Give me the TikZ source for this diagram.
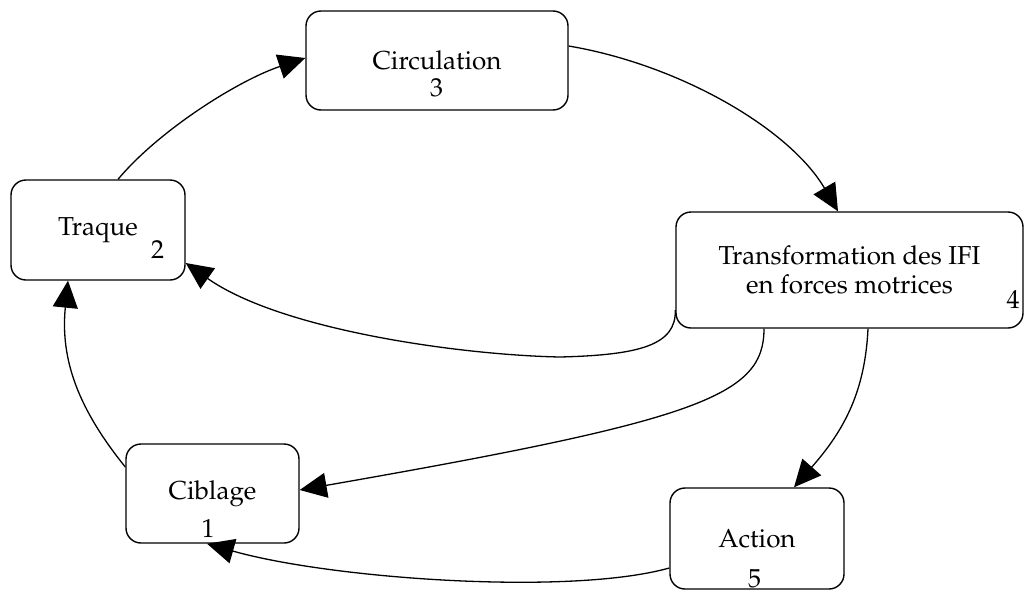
\documentclass[tikz,border=0pt]{standalone}
\usepackage[T1]{fontenc}
\usepackage{mathpazo}
\usetikzlibrary{arrows.meta,calc}

\tikzset{
  stage/.style={draw, line width=1.4pt, rounded corners=15pt, inner sep=0pt,
    align=center, font=\fontsize{26}{29}\selectfont},
  num/.style={anchor=base, inner sep=0pt, font=\fontsize{26}{29}\selectfont},
  flow/.style={line width=1.3pt, -{Triangle[length=27pt,width=25pt]}}
}

\begin{document}
\begin{tikzpicture}[x=1pt, y=-1pt]
\useasboundingbox (0,0) rectangle (1025,608);

% stages of the cycle
\node[stage, minimum width=262pt, minimum height=99pt]  (ci) at (437,60.5)   {Circulation};
\node[stage, minimum width=174pt, minimum height=100pt] (tr) at (98,230)     {Traque};
\node[stage, minimum width=347pt, minimum height=116pt] (tf) at (849.5,270)  {Transformation des IFI\\en forces motrices};
\node[stage, minimum width=173pt, minimum height=99pt]  (cb) at (212.5,493.5) {Ciblage};
\node[stage, minimum width=174pt, minimum height=101pt] (ac) at (757,538.5)  {Action};

% step numbers
\node[num] (n3) at (436.5,96) {3};
\node[num] (n2) at (157.5,258) {2};
\node[num] (n4) at (1013,308) {4};
\node[num] (n1) at (208,537) {1};
\node[num] (n5) at (754.5,587) {5};

% connectors
\draw[flow] ($(tr.north)+(20,0)$) .. controls +(42,-50) and +(-66,22) .. ($(ci.west)+(0,-2.5)$);
\draw[flow] ($(ci.east)+(0,-14.5)$) .. controls +(112,19) and +(-48,-82) .. ($(tf.north)+(-11.5,0)$);
\draw[flow] ($(tf.west)+(0,40)$) .. controls +(1,35) and +(80,-2) .. (560,357)
            .. controls +(-100,-2) and +(95,67) .. ($(tr.east)+(0,33)$);
\draw[flow] ($(tf.south)+(-85.5,0)$) .. controls +(0,67) and +(401,-70) .. ($(cb.east)+(0,-3.5)$);
\draw[flow] ($(tf.south)+(18.5,0)$) .. controls +(-3,62) and +(51,-58) .. ($(ac.north)+(37,0)$);
\draw[flow] ($(ac.west)+(0,29.5)$) .. controls +(-100,28) and +(123,35) .. ($(cb.south)+(-5.5,0)$);
\draw[flow] ($(cb.west)+(0,-26.5)$) .. controls +(-46,-57) and +(-8,80) .. ($(tr.south)+(-30,0)$);
\end{tikzpicture}
\end{document}
